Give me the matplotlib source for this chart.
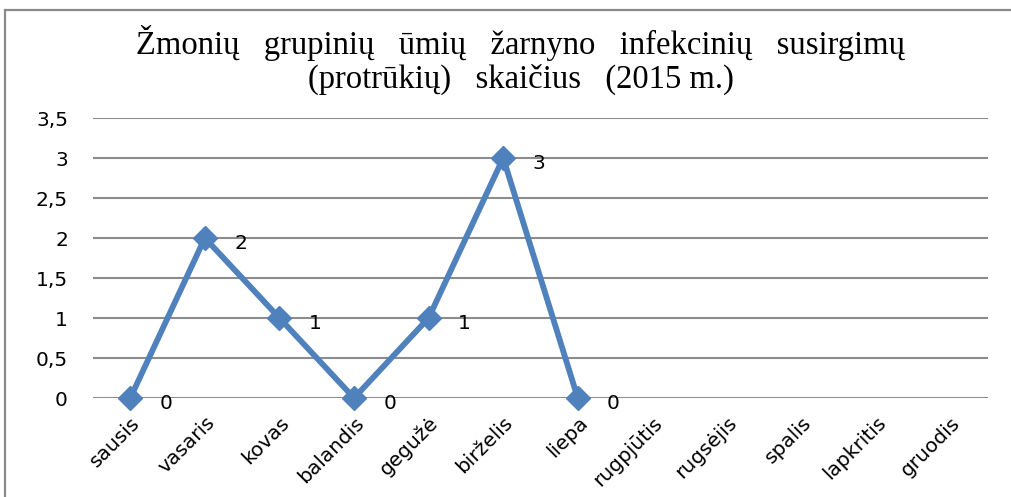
import matplotlib.pyplot as plt
from matplotlib.patches import Rectangle

months = ['sausis', 'vasaris', 'kovas', 'balandis', 'gegužė', 'birželis',
          'liepa', 'rugpjūtis', 'rugsėjis', 'spalis', 'lapkritis', 'gruodis']
values = [0, 2, 1, 0, 1, 3, 0]
yticks = [0, 0.5, 1, 1.5, 2, 2.5, 3, 3.5]
ytick_labels = ['0', '0,5', '1', '1,5', '2', '2,5', '3', '3,5']
title = ('Žmonių   grupinių   ūmių   žarnyno   infekcinių   susirgimų\n'
         '(protrūkių)   skaičius   (2015 m.)')

blue = '#4F81BD'
grid = '#8C8C8C'

fig = plt.figure(figsize=(10.11, 4.97), dpi=100)
fig.patches.append(Rectangle((5 / 1011, -0.1), 1.1, 1.1 - 10 / 497,
                             transform=fig.transFigure, fill=False,
                             edgecolor='#8A8A8A', linewidth=1.6))

ax = fig.add_axes([93 / 1011, 1 - 398 / 497, 895 / 1011, 280 / 497])
x = list(range(len(values)))
ax.plot(x, values, color=blue, linewidth=4.2, marker='D', markersize=12,
        zorder=3, clip_on=False)
for xi, v in zip(x, values):
    ax.annotate(str(v), (xi, v), xytext=(21, -4), textcoords='offset points',
                ha='left', va='center', fontsize=14.5)

ax.set_xlim(-0.5, len(months) - 0.5)
ax.set_ylim(0, 3.5)
ax.set_yticks(yticks)
ax.set_yticklabels(ytick_labels, fontsize=14.5)
ax.set_xticks(range(len(months)))
ax.set_xticklabels(months, rotation=45, ha='right', rotation_mode='anchor',
                   fontsize=14.5)
ax.tick_params(axis='both', length=0)
ax.tick_params(axis='y', pad=18)
ax.tick_params(axis='x', pad=11)
ax.yaxis.grid(True, color=grid, linewidth=1.5)
ax.set_axisbelow(True)
for s in ax.spines.values():
    s.set_visible(False)

fig.text(0.515, 1 - 60 / 497, title, ha='center', va='center',
         family='Liberation Serif', fontsize=23.5, linespacing=1.08)

fig.savefig('out.png', dpi=100)
